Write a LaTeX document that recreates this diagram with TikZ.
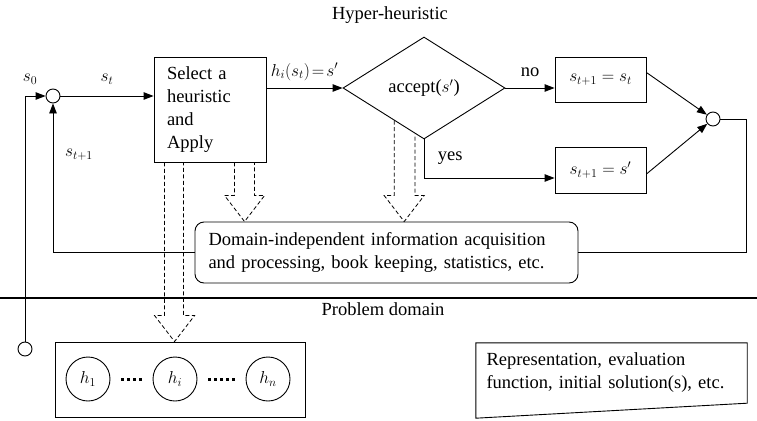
\documentclass[tikz,border=0pt]{standalone}
\usepackage{fontspec}
\setmainfont{Liberation Serif}
\usetikzlibrary{shapes.geometric, arrows.meta, calc}
\tikzset{
  blk/.style={rectangle, draw=black, line width=0.9pt, align=center, inner sep=3pt},
  dec/.style={diamond, draw=black, line width=0.9pt, minimum width=162pt, minimum height=102pt,
    inner sep=0pt, align=center},
  junc/.style={circle, draw=black, line width=0.9pt, minimum size=14pt, inner sep=0pt},
  hcirc/.style={circle, draw=black, line width=0.9pt, minimum size=44pt, inner sep=0pt},
  info/.style={rectangle, rounded corners=9pt, draw=black, line width=0.9pt,
    minimum width=383pt, minimum height=61pt, text width=356pt, align=left, inner sep=0pt},
  ln/.style={draw=black, line width=0.9pt},
  ar/.style={-{Triangle[length=10pt, width=7.5pt]}, draw=black, line width=0.9pt},
  hollow/.style={draw=black, line width=0.8pt, dash pattern=on 4pt off 2.5pt},
  dots/.style={draw=black, line width=3pt, dash pattern=on 3pt off 3pt,
    shorten <=11pt, shorten >=11pt},
  sep/.style={draw=black, line width=2.6pt},
  lb/.style={inner sep=1pt},
}
% dashed hollow arrow: left start, right start, target node
\newcommand{\hollowarrow}[3]{%
  \draw[hollow] let \p1=(#1), \p2=(#2), \p3=(#3.north) in
    (\p1) -- (\x1,\y3+26pt) -- (\x1-10pt,\y3+26pt) -- (\x1+10pt,\y3)
    -- (\x1+30pt,\y3+26pt) -- (\x2,\y3+26pt) -- (\p2);%
}

\begin{document}
\begin{tikzpicture}[x=1pt, y=-1pt, every node/.style={font=\fontsize{18.5}{23}\selectfont}]
\useasboundingbox (0,0) rectangle (757,420);

\node[lb] (title) at (390,15) {Hyper-heuristic};
\node[lb] (pdom) at (383,309) {Problem domain};

\node[junc] (init) at (25,349) {};
\node[junc] (sumL) at (53,96) {};
\node[blk, minimum width=112pt, minimum height=105pt, text width=86pt, align=left] (select)
  at (210,109.5) {Select a\\heuristic\\and\\Apply};
\node[dec] (accept) at (424,88) {accept($s'$)};
\node[blk, minimum width=91pt, minimum height=45pt] (keep) at (600.5,79.5) {$s_{t+1}=s_t$};
\node[blk, minimum width=91pt, minimum height=46pt] (new) at (600.5,170) {$s_{t+1}=s'$};
\node[junc] (sumR) at (713,119) {};

\node[info] (info) at (386.5,252.5) {Domain-independent information acquisition\\and processing, book keeping, statistics, etc.};

\node[blk, minimum width=250pt, minimum height=75pt] (heur) at (180,379.5) {};
\node[hcirc] (h1) at (88,379) {$h_1$};
\node[hcirc] (hi) at (175,379) {$h_i$};
\node[hcirc] (hn) at (268,379) {$h_n$};

\node[minimum width=271pt, minimum height=75pt, inner sep=0pt] (domain) at (611.5,380.5) {};
\node[text width=250pt, align=left, inner sep=0pt] (domaintxt) at (611.5,373) {Representation, evaluation\\function, initial solution(s), etc.};

\node[lb] (s0) at (30,79) {$s_0$};
\node[lb] (snext) at (79,155) {$s_{t+1}$};

\draw[sep] (0,298) -- (757,298);

% main loop
\draw[ar] (init.north) |- (sumL.west);
\draw[ar] (sumL.east) -- node[lb, above=10pt]{$s_t$} (sumL.east -| select.west);
\draw[ar] (accept.west -| select.east) -- node[lb, above=6pt]{$h_i(s_t)\!=\!s'$} (accept.west);
\draw[ar] (accept.east) -- node[lb, above=10pt]{no} (accept.east -| keep.west);
\coordinate (yesin) at ([yshift=-8pt]new.west);
\draw[ar] (accept.south) |- node[lb, pos=0.6, above=12pt]{yes} (yesin);
\draw[ar] ([yshift=7pt]keep.east) -- (sumR);
\draw[ar] ([yshift=-4pt]new.east) -- (sumR);
\coordinate (rc) at (746,252.5);
\draw[ln] (sumR.east) -| (rc) -- (info.east);
\draw[ar] (info.west) -| (sumL.south);

% information flow
\hollowarrow{[xshift=81pt]select.south west}{[xshift=101pt]select.south west}{info}
\hollowarrow{$(accept.west)!0.634!(accept.south)$}{$(accept.west)!0.89!(accept.south)$}{info}
\hollowarrow{[xshift=11pt]select.south west}{[xshift=30pt]select.south west}{heur}

\draw[dots] (h1) -- (hi);
\draw[dots] (hi) -- (hn);

\draw[ln] (domain.north west) -- (domain.north east) -- ([yshift=15pt]domain.south east)
  -- (domain.south west) -- cycle;
\end{tikzpicture}
\end{document}
